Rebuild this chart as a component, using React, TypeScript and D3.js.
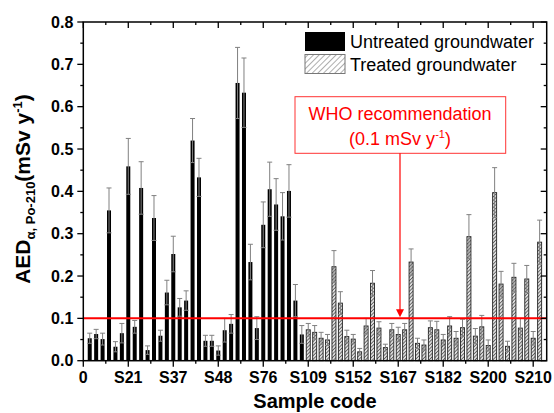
import React from "react";
import * as d3 from "d3";

const untreated = [0.053,0.063,0.051,0.355,0.033,0.065,0.459,0.080,0.408,0.025,0.337,0.059,0.161,0.252,0.126,0.142,0.520,0.433,0.047,0.047,0.024,0.072,0.087,0.656,0.633,0.233,0.077,0.321,0.405,0.369,0.341,0.401,0.142,0.062];
const untreatedErr = [0.012,0.011,0.014,0.053,0.012,0.023,0.066,0.015,0.062,0.010,0.053,0.013,0.029,0.042,0.021,0.023,0.052,0.045,0.013,0.013,0.011,0.028,0.022,0.084,0.082,0.042,0.027,0.054,0.064,0.061,0.056,0.062,0.038,0.021];
const treated = [0.073,0.067,0.053,0.049,0.222,0.136,0.057,0.051,0.021,0.082,0.183,0.077,0.031,0.073,0.062,0.073,0.233,0.041,0.037,0.078,0.073,0.049,0.082,0.053,0.078,0.293,0.058,0.080,0.036,0.397,0.181,0.034,0.197,0.077,0.193,0.053,0.280];
const treatedErr = [0.015,0.016,0.014,0.013,0.038,0.027,0.015,0.011,0.008,0.018,0.030,0.015,0.008,0.015,0.017,0.015,0.031,0.012,0.012,0.016,0.020,0.013,0.022,0.016,0.020,0.052,0.018,0.027,0.013,0.059,0.030,0.012,0.033,0.023,0.032,0.016,0.052];
const xTickLabels = ["0","S21","S37","S48","S76","S109","S152","S167","S182","S200","S210"];
const yTicks = [0,0.1,0.2,0.3,0.4,0.5,0.6,0.7,0.8];
const whoLimit = 0.1;

const W = 554, H = 413;
const L = 83.3, R = 546.7, T = 22, B = 360.7;
const FONT = "'Liberation Sans', Arial, sans-serif";

export default function App() {
  const x = d3.scaleLinear().domain([0, 72.1]).range([L, R]);
  const y = d3.scaleLinear().domain([0, 0.8]).range([B, T]);
  const bars = [
    ...untreated.map((v, i) => ({ v, e: untreatedErr[i], t: false })),
    ...treated.map((v, i) => ({ v, e: treatedErr[i], t: true })),
  ].map((d, i) => ({ ...d, idx: i + 1 }));
  const bw = 4;
  const majorX = d3.range(0, 71, 7);
  const minorX = d3.range(3.5, 72.1, 7);
  const minorY = d3.range(0.05, 0.8, 0.1);

  return (
    <svg width={W} height={H} style={{ position: "absolute", left: 0, top: 0, background: "#fff" }} fontFamily={FONT}>
      <defs>
        <pattern id="hatch" width="2.5" height="2.5" patternUnits="userSpaceOnUse" patternTransform="rotate(45)">
          <rect width="2.5" height="2.5" fill="#ddd" />
          <line x1="0" y1="0" x2="0" y2="2.5" stroke="#444" strokeWidth="1.4" />
        </pattern>
        <pattern id="hatchL" width="4" height="4" patternUnits="userSpaceOnUse" patternTransform="rotate(45)">
          <rect width="4" height="4" fill="#fff" />
          <line x1="0" y1="0" x2="0" y2="4" stroke="#777" strokeWidth="1.2" />
        </pattern>
      </defs>

      {bars.map((d) => (
        <rect key={"b" + d.idx} x={x(d.idx) - bw / 2} y={y(d.v)} width={bw} height={y(0) - y(d.v)}
          fill={d.t ? "url(#hatch)" : "#000"} stroke={d.t ? "#222" : "none"} strokeWidth={0.9} />
      ))}
      {bars.map((d) => {
        const cx = x(d.idx);
        const y1 = y(d.v + d.e), y0 = y(Math.max(0, d.v - d.e));
        return (
          <g key={"e" + d.idx} stroke="#808080" strokeWidth={1}>
            <line x1={cx} x2={cx} y1={y1} y2={y0} />
            <line x1={cx - 2.5} x2={cx + 2.5} y1={y1} y2={y1} />
            <line x1={cx - 2.5} x2={cx + 2.5} y1={y0} y2={y0} />
          </g>
        );
      })}

      <line x1={L} x2={R} y1={y(whoLimit)} y2={y(whoLimit)} stroke="#f00" strokeWidth={2} />

      <rect x={L} y={T} width={R - L} height={B - T} fill="none" stroke="#000" strokeWidth={1.5} />

      {majorX.map((t) => (
        <g key={"mx" + t} stroke="#000" strokeWidth={1.3}>
          <line x1={x(t)} x2={x(t)} y1={B} y2={B + 6} />
          <line x1={x(t)} x2={x(t)} y1={T} y2={T + 6} />
        </g>
      ))}
      {minorX.map((t) => (
        <g key={"nx" + t} stroke="#000" strokeWidth={1.3}>
          <line x1={x(t)} x2={x(t)} y1={B} y2={B + 3} />
          <line x1={x(t)} x2={x(t)} y1={T} y2={T + 3} />
        </g>
      ))}
      {majorX.map((t, i) => (
        <text key={"lx" + t} x={x(t)} y={B + 22} textAnchor="middle" fontSize={16} fontWeight="bold">{xTickLabels[i]}</text>
      ))}

      {yTicks.map((t) => (
        <g key={"my" + t} stroke="#000" strokeWidth={1.3}>
          <line x1={L - 6} x2={L} y1={y(t)} y2={y(t)} />
          <line x1={R - 6} x2={R} y1={y(t)} y2={y(t)} />
        </g>
      ))}
      {minorY.map((t) => (
        <g key={"ny" + t} stroke="#000" strokeWidth={1.3}>
          <line x1={L - 3} x2={L} y1={y(t)} y2={y(t)} />
          <line x1={R - 3} x2={R} y1={y(t)} y2={y(t)} />
        </g>
      ))}
      {yTicks.map((t) => (
        <text key={"ly" + t} x={L - 10} y={y(t) + 5.5} textAnchor="end" fontSize={16} fontWeight="bold">{d3.format(".1f")(t)}</text>
      ))}

      <text x={(L + R) / 2} y={408} textAnchor="middle" fontSize={20} fontWeight="bold">Sample code</text>
      <text transform={`translate(30,189) rotate(-90)`} textAnchor="middle" fontSize={21} fontWeight="bold">
        AED<tspan fontSize={13} dy={5}>α, Po-210</tspan><tspan dy={-5}>(mSv y</tspan><tspan fontSize={13} dy={-8}>-1</tspan><tspan dy={8}>)</tspan>
      </text>

      <rect x={305} y={32} width={40} height={19} fill="#000" />
      <rect x={305} y={54.5} width={40} height={19} fill="url(#hatchL)" stroke="#777" strokeWidth={1} />
      <text x={350} y={48} fontSize={18}>Untreated groundwater</text>
      <text x={350} y={70.5} fontSize={18}>Treated groundwater</text>

      <rect x={295} y={96.7} width={210.7} height={56.6} fill="#fff" stroke="#f33" strokeWidth={1} />
      <text x={400} y={120} textAnchor="middle" fontSize={18} fill="#f00">WHO recommendation</text>
      <text x={400} y={145} textAnchor="middle" fontSize={18} fill="#f00">(0.1 mSv y<tspan fontSize={11} dy={-7}>-1</tspan><tspan dy={7}>)</tspan></text>
      <line x1={400} x2={400} y1={153.3} y2={y(whoLimit) - 8} stroke="#f00" strokeWidth={1.2} />
      <path d={`M396,${y(whoLimit) - 9} L404,${y(whoLimit) - 9} L400,${y(whoLimit) - 1} Z`} fill="#f00" />
    </svg>
  );
}
